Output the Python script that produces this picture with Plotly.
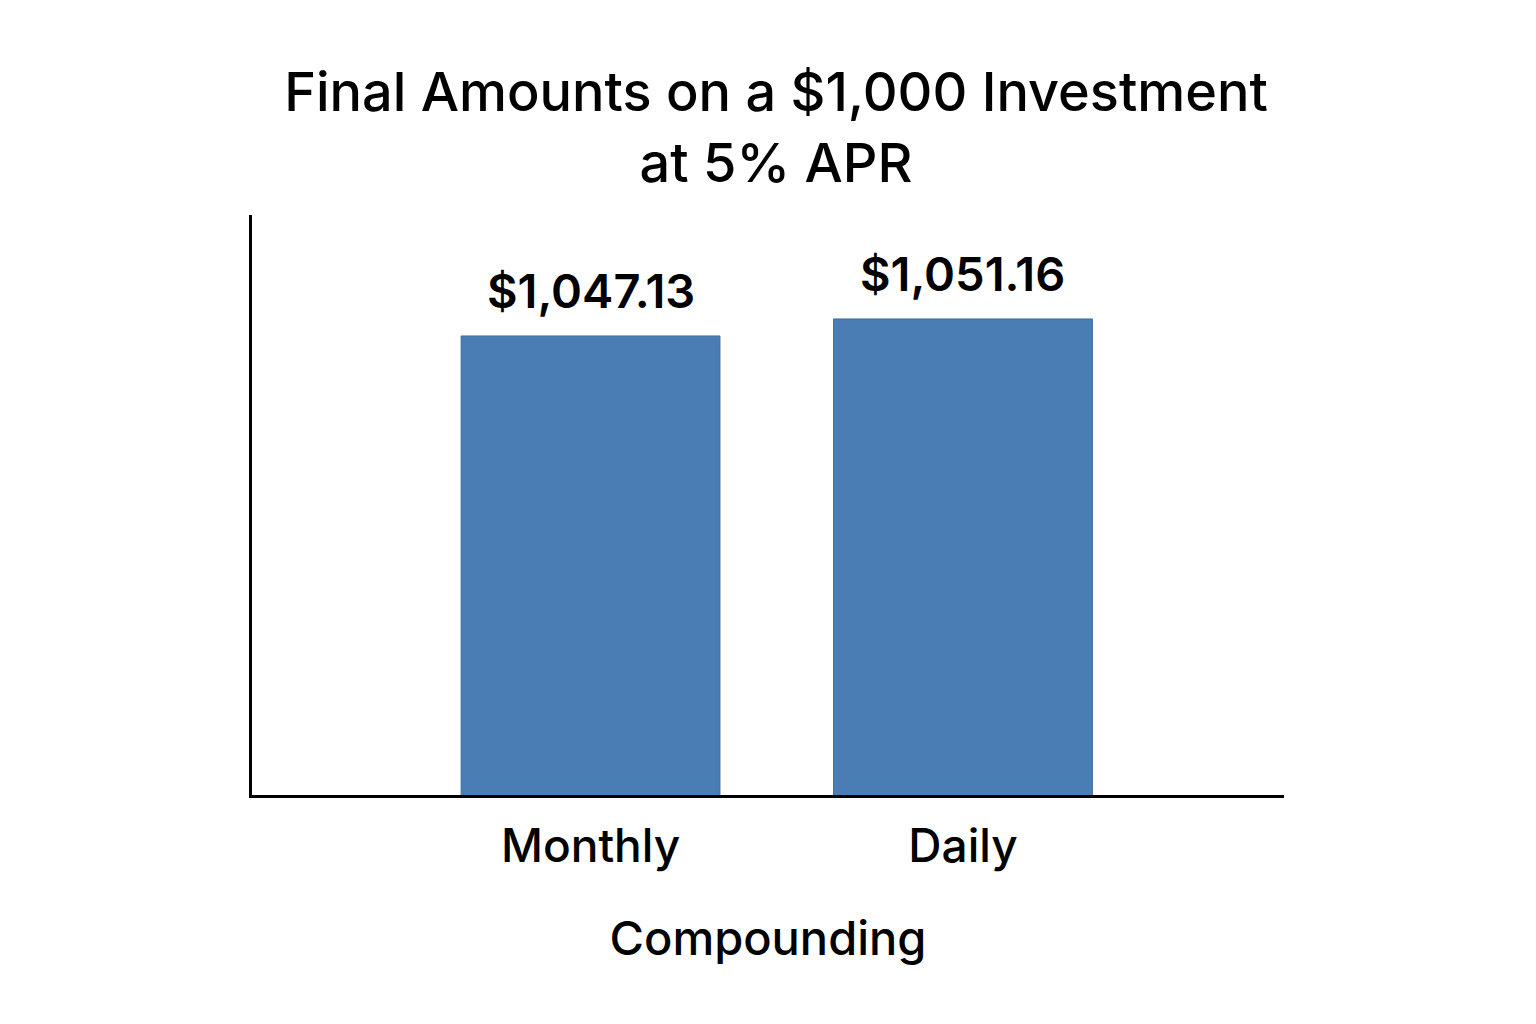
"""
Bar chart of final amounts on a $1,000 investment at 5% APR.
"""

import plotly.graph_objects as go

categories = ['Monthly', 'Daily']
final_amounts = [1047.13, 1051.16]
amount_labels = ['$1,047.13', '$1,051.16']

bar_color = '#4A7DB4'
font_family = 'Inter, Roboto, sans-serif'

fig = go.Figure()
fig.add_trace(
    go.Bar(
        x=categories,
        y=final_amounts,
        width=0.695,
        marker={'color': bar_color,
                'line': {'color': '#3F6FA3', 'width': 1}},
        hoverinfo='skip'
    )
)

for cat, val, label in zip(categories, final_amounts, amount_labels):
    fig.add_annotation(
        x=cat,
        y=val,
        text=label,
        showarrow=False,
        yanchor='bottom',
        yshift=15,
        font={'size': 47, 'color': '#000000', 'family': font_family,
              'weight': 600}
    )

# page body adds an 8px offset, so margins are nudged to compensate
fig.update_layout(
    {'plot_bgcolor': '#FFFFFF', 'paper_bgcolor': '#FFFFFF'},
    width=1536,
    height=1024,
    margin={'l': 244, 'r': 260, 't': 207, 'b': 237},
    showlegend=False,
    font={'family': font_family, 'color': '#000000'},
    title={
        'text': 'Final Amounts on a $1,000 Investment<br>at 5% APR',
        'x': 0.5,
        'xanchor': 'center',
        'y': 0.899,
        'yanchor': 'top',
        'font': {'size': 54, 'color': '#000000', 'family': font_family,
                 'weight': 500}
    }
)
fig.update_xaxes(
    range=[-0.909, 1.862],
    showline=True,
    linecolor='#000000',
    linewidth=3,
    ticks='',
    ticklabelstandoff=9,
    tickfont={'size': 46, 'weight': 500},
    title_text='Compounding',
    title_font={'size': 47, 'weight': 500},
    title_standoff=50
)
fig.update_yaxes(
    range=[938.3, 1075.8],
    showline=True,
    linecolor='#000000',
    linewidth=3,
    showgrid=False,
    zeroline=False,
    showticklabels=False,
    ticks=''
)

fig.write_html('out.html')
